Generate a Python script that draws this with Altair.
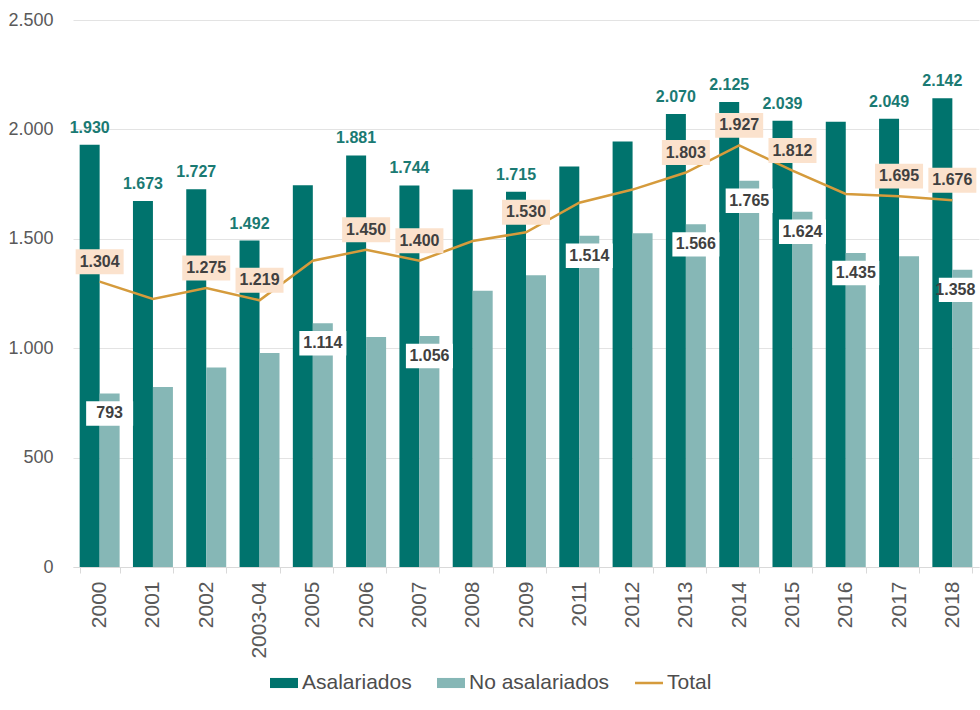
import altair as alt
import pandas as pd

# Periodos y valores por serie
anios = ["2000", "2001", "2002", "2003-04", "2005", "2006", "2007", "2008", "2009",
         "2011", "2012", "2013", "2014", "2015", "2016", "2017", "2018"]
asalariados = [1930, 1673, 1727, 1492, 1745, 1881, 1744, 1725, 1715,
               1830, 1945, 2070, 2125, 2039, 2035, 2049, 2142]
no_asalariados = [793, 823, 912, 978, 1114, 1051, 1056, 1262, 1333,
                  1514, 1525, 1566, 1765, 1624, 1435, 1420, 1358]
total = [1304, 1225, 1275, 1219, 1400, 1450, 1400, 1490, 1530,
         1665, 1725, 1803, 1927, 1812, 1705, 1695, 1676]

# Periodos con etiqueta de valor en cada serie
etiqueta_asal = ["2000", "2001", "2002", "2003-04", "2006", "2007", "2009",
                 "2013", "2014", "2015", "2017", "2018"]
etiqueta_no_asal = ["2000", "2005", "2007", "2011", "2013", "2014", "2015",
                    "2016", "2018"]
etiqueta_total = ["2000", "2002", "2003-04", "2006", "2007", "2009", "2013",
                  "2014", "2015", "2017", "2018"]

series = ["Asalariados", "No asalariados", "Total"]
colores = ["#00736d", "#86b7b6", "#d59b3c"]

FUENTE = "Liberation Sans Narrow, Liberation Sans, Arial"
GRIS = "#595959"
ULTIMO = anios[-1]

filas = []
for i, a in enumerate(anios):
    filas.append({"anio": a, "serie": "Asalariados", "valor": asalariados[i],
                  "etiqueta": a in etiqueta_asal})
    filas.append({"anio": a, "serie": "No asalariados", "valor": no_asalariados[i],
                  "etiqueta": a in etiqueta_no_asal})
    filas.append({"anio": a, "serie": "Total", "valor": total[i],
                  "etiqueta": a in etiqueta_total})
df = pd.DataFrame(filas)

fmt = "replace(format(datum.valor, ','), ',', '.')"

base = alt.Chart(df).transform_calculate(texto=fmt)

x_enc = alt.X(
    "anio:N",
    sort=anios,
    scale=alt.Scale(domain=anios, paddingInner=0.25, paddingOuter=0.125),
    axis=alt.Axis(
        title=None, labelAngle=270, labelFont=FUENTE, labelFontSize=21,
        labelColor=GRIS, labelPadding=8, tickBand="extent", tickColor="#d9d9d9",
        tickSize=6, domainColor="#d9d9d9",
    ),
)
y_enc = alt.Y(
    "valor:Q",
    scale=alt.Scale(domain=[0, 2500]),
    axis=alt.Axis(
        title=None, values=[0, 500, 1000, 1500, 2000, 2500], domain=False,
        ticks=False, gridColor="#e3e3e3", labelFont=FUENTE, labelFontSize=18,
        labelColor=GRIS, labelPadding=20,
        labelExpr="replace(format(datum.value, ','), ',', '.')",
    ),
)
off_scale = alt.Scale(domain=["Asalariados", "No asalariados"])
off_enc = alt.XOffset("serie:N", scale=off_scale)
color_scale = alt.Scale(domain=series, range=colores)

barras = base.transform_filter("datum.serie != 'Total'").mark_bar().encode(
    x=x_enc,
    xOffset=off_enc,
    y=y_enc,
    color=alt.Color("serie:N", scale=color_scale, legend=None),
)

linea = base.transform_filter("datum.serie == 'Total'").mark_line(
    color="#d59b3c", strokeWidth=2.5
).encode(x=x_enc, y=y_enc)

caja = "M-1,-0.52H1V0.52H-1Z"
estilo_txt = dict(baseline="middle", font=FUENTE, fontSize=16, fontWeight="bold")

# Etiquetas del total: caja melocotón sobre el punto
tot_lab = base.transform_filter("datum.serie == 'Total' && datum.etiqueta")
caja_total = tot_lab.mark_point(
    shape=caja, size=2304, filled=True, color="#fbe2cd", opacity=1,
    strokeWidth=0, yOffset=-20,
).encode(x=x_enc, y=y_enc)
texto_total = tot_lab.mark_text(dy=-20, color="#404040", **estilo_txt).encode(
    x=x_enc, y=y_enc, text="texto:N"
)

# Etiquetas de no asalariados: caja blanca bajo el extremo de la barra;
# la del último periodo se desplaza hacia dentro para no salirse del borde
no_lab = base.transform_filter("datum.serie == 'No asalariados' && datum.etiqueta")
no_int = no_lab.transform_filter(f"datum.anio != '{ULTIMO}'")
no_fin = no_lab.transform_filter(f"datum.anio == '{ULTIMO}'")

def caja_blanca(datos, desplaz):
    return datos.mark_point(
        shape=caja, size=2209, filled=True, color="#ffffff", opacity=1,
        strokeWidth=0, yOffset=20, xOffset=desplaz,
    ).encode(x=x_enc, xOffset=off_enc, y=y_enc)

def texto_blanco(datos, desplaz):
    return datos.mark_text(dy=20, dx=desplaz, color="#404040", **estilo_txt).encode(
        x=x_enc, xOffset=off_enc, y=y_enc, text="texto:N"
    )

asal_lab = base.transform_filter("datum.serie == 'Asalariados' && datum.etiqueta")
texto_asal = asal_lab.mark_text(dy=-17, color="#1a7a73", **estilo_txt).encode(
    x=x_enc, xOffset=off_enc, y=y_enc, text="texto:N"
)

# Leyenda: rectángulo para las barras y trazo fino para la línea
formas = ["M-1,-0.36H1V0.36H-1Z", "M-1,-0.36H1V0.36H-1Z", "M-1,-0.09H1V0.09H-1Z"]
leyenda = alt.Legend(
    title=None, orient="none", legendX=197, legendY=649, direction="horizontal",
    labelFont="Liberation Sans, Arial", labelFontSize=21, labelColor="#4d4d4d",
    symbolSize=784, symbolStrokeWidth=0, symbolOpacity=1, columnPadding=25,
    labelOffset=4, padding=0,
)
capa_leyenda = alt.Chart(df).transform_filter("false").mark_point(
    filled=True
).encode(
    color=alt.Color("serie:N", scale=color_scale, legend=leyenda),
    shape=alt.Shape("serie:N", scale=alt.Scale(domain=series, range=formas),
                    legend=leyenda),
)

chart = alt.layer(
    capa_leyenda, barras, linea, caja_total, texto_total,
    caja_blanca(no_int, 0), texto_blanco(no_int, 0),
    caja_blanca(no_fin, -7), texto_blanco(no_fin, -7),
    texto_asal,
).properties(
    width=906, height=547,
    padding={"left": 73, "top": 20, "right": 1, "bottom": 143},
    autosize=alt.AutoSizeParams(type="none"),
    background="white",
).configure_view(stroke=None)

chart.save("out.html", embed_options={"renderer": "svg", "actions": False})
